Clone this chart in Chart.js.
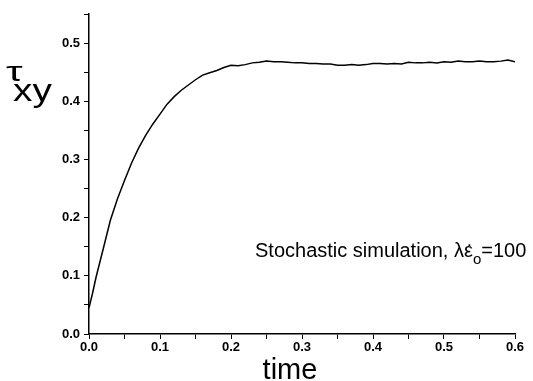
<!DOCTYPE html>
<html>
<head>
<meta charset="utf-8">
<script src="https://cdn.jsdelivr.net/npm/chart.js@4/dist/chart.umd.min.js"></script>
<style>
  html, body { margin: 0; padding: 0; background: #fff; }
  #wrap { width: 533px; height: 381px; }
</style>
</head>
<body>
<div id="wrap"><canvas id="result_chart"></canvas></div>
<script>
// time values and shear stress
const times = [0, 0.005, 0.01, 0.015, 0.02, 0.03, 0.04, 0.05, 0.06, 0.07, 0.08, 0.09,
    0.10, 0.11, 0.12, 0.13, 0.14, 0.15, 0.16, 0.17, 0.18, 0.19, 0.20, 0.21, 0.22,
    0.23, 0.24, 0.25, 0.26, 0.27, 0.28, 0.29, 0.30, 0.31, 0.32, 0.33, 0.34, 0.35,
    0.36, 0.37, 0.38, 0.39, 0.40, 0.41, 0.42, 0.43, 0.44, 0.45, 0.46, 0.47, 0.48,
    0.49, 0.50, 0.51, 0.52, 0.53, 0.54, 0.55, 0.56, 0.57, 0.58, 0.59, 0.60];
const tau_xy = [0.045, 0.070, 0.098, 0.122, 0.146, 0.195, 0.232, 0.264, 0.294, 0.320, 0.342, 0.361,
    0.378, 0.395, 0.408, 0.419, 0.428, 0.437, 0.445, 0.449, 0.453, 0.458, 0.462, 0.461, 0.463,
    0.466, 0.467, 0.469, 0.468, 0.468, 0.467, 0.466, 0.466, 0.465, 0.465, 0.464, 0.464, 0.462,
    0.462, 0.463, 0.462, 0.463, 0.465, 0.465, 0.464, 0.465, 0.464, 0.467, 0.466, 0.466, 0.467,
    0.466, 0.468, 0.467, 0.469, 0.468, 0.468, 0.469, 0.468, 0.468, 0.469, 0.471, 0.468];
const x_range = [0, 0.6];
const y_range = [0, 0.55];
const annotation = "Stochastic simulation, \u03BB\u03B5";

const points = times.map((t, i) => ({ x: t, y: tau_xy[i] }));

const tick_label = (v) => {
    const k = Math.round(v * 100);
    return k % 10 === 0 ? (k / 100).toFixed(1) : '';
};

// extra text: y label, x label, annotation
const labels_plugin = {
    id: 'labels_plugin',
    afterDraw(chart) {
        const ctx = chart.ctx;
        ctx.save();
        ctx.fillStyle = '#000';
        ctx.textBaseline = 'alphabetic';
        ctx.textAlign = 'left';

        // tau_xy
        ctx.save();
        ctx.translate(6, 81);
        ctx.scale(1.5, 1);
        ctx.font = '28px "Liberation Sans", Arial, sans-serif';
        ctx.fillText('\u03C4', 0, 0);
        ctx.restore();
        ctx.save();
        ctx.translate(13, 101);
        ctx.scale(1.25, 1);
        ctx.font = '31px "Liberation Sans", Arial, sans-serif';
        ctx.fillText('xy', 0, 0);
        ctx.restore();

        // time
        ctx.font = '29px "Liberation Sans", Arial, sans-serif';
        ctx.textAlign = 'center';
        ctx.fillText('time', 290, 379);

        // annotation
        ctx.textAlign = 'left';
        ctx.font = '20px "Liberation Sans", Arial, sans-serif';
        let x = 255;
        const y = 257;
        ctx.fillText(annotation, x, y);
        const w = ctx.measureText(annotation).width;
        const epsW = ctx.measureText('\u03B5').width;
        ctx.fillText('\u02D9', x + w - epsW + 3, y + 2);
        x += w;
        ctx.font = '15px "Liberation Sans", Arial, sans-serif';
        ctx.fillText('o', x, y + 7);
        x += ctx.measureText('o').width;
        ctx.font = '20px "Liberation Sans", Arial, sans-serif';
        ctx.fillText('=100', x, y);
        ctx.restore();
    }
};

const config = {
    type: 'line',
    data: {
        datasets: [{
            data: points,
            borderColor: '#000',
            borderWidth: 1.5,
            pointRadius: 0,
            fill: false,
            tension: 0
        }]
    },
    options: {
        responsive: true,
        maintainAspectRatio: false,
        animation: false,
        layout: { padding: { top: 14, right: 18, left: 0, bottom: 0 } },
        plugins: { legend: { display: false }, tooltip: { enabled: false } },
        scales: {
            x: {
                type: 'linear',
                min: x_range[0],
                max: x_range[1],
                afterFit: (scale) => { scale.height = 47; },
                border: { display: true, color: '#000', width: 1.5 },
                grid: { drawOnChartArea: false, drawTicks: true, tickLength: 5, color: '#000' },
                ticks: {
                    stepSize: 0.05,
                    autoSkip: false,
                    maxRotation: 0,
                    padding: 1,
                    color: '#000',
                    font: { family: '"Liberation Sans", Arial, sans-serif', size: 13, weight: 'bold' },
                    callback: tick_label
                }
            },
            y: {
                min: y_range[0],
                max: y_range[1],
                afterFit: (scale) => { scale.width = 89; },
                border: { display: true, color: '#000', width: 1.5 },
                grid: { drawOnChartArea: false, drawTicks: true, tickLength: 5, color: '#000' },
                ticks: {
                    stepSize: 0.05,
                    autoSkip: false,
                    padding: 4,
                    color: '#000',
                    font: { family: '"Liberation Sans", Arial, sans-serif', size: 13, weight: 'bold' },
                    callback: tick_label
                }
            }
        }
    },
    plugins: [labels_plugin]
};

new Chart(document.getElementById('result_chart'), config);
</script>
</body>
</html>
